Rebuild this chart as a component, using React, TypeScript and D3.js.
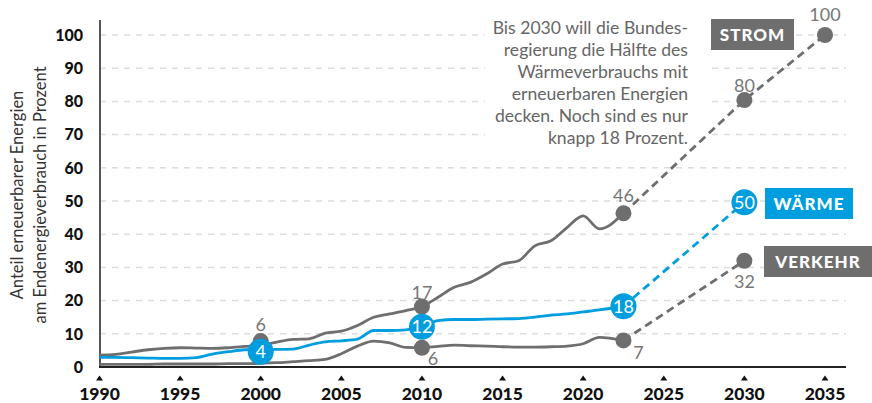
import React from "react";
import * as d3 from "d3";

const years = [1990,1991,1992,1993,1994,1995,1996,1997,1998,1999,2000,2001,2002,2003,2004,2005,2006,2007,2008,2009,2010,2011,2012,2013,2014,2015,2016,2017,2018,2019,2020,2021,2022.5];
const strom = [3.6,3.8,4.5,5.2,5.6,5.8,5.7,5.6,5.8,6.2,6.6,7.5,8.3,8.5,10.2,10.8,12.5,15,16,17,18.2,21,24,25.5,28,31,32,36.5,38,42,45.5,41.6,46.3];
const waerme = [2.9,2.9,2.8,2.7,2.6,2.6,2.8,3.9,4.6,5.2,5.3,5.3,5.4,6.6,7.6,7.9,8.4,11,11,11.2,12.2,14,14.3,14.3,14.4,14.5,14.6,15,15.6,16,16.6,17.2,18.3];
const verkehr = [0.8,0.8,0.8,0.8,0.9,0.9,0.9,0.9,1.0,1.0,1.1,1.3,1.6,1.9,2.3,4.0,6.3,7.8,7.3,5.9,5.8,6.2,6.6,6.4,6.3,6.1,6.0,6.0,6.1,6.3,7.0,8.9,8.0];

const projYears = [2022.5, 2030, 2035];
const stromProj = [46.3, 80.4, 100];
const waermeProj = [18.3, 49.6];
const verkehrProj = [8.0, 32];

const stromMarkers = [
  { year: 2000, value: 7.8, label: "6" },
  { year: 2010, value: 18.2, label: "17" },
  { year: 2022.5, value: 46.3, label: "46" },
  { year: 2030, value: 80.4, label: "80" },
  { year: 2035, value: 100, label: "100" },
];
const waermeMarkers = [
  { year: 2000, value: 4.6, label: "4" },
  { year: 2010, value: 12.1, label: "12" },
  { year: 2022.5, value: 18.3, label: "18" },
  { year: 2030, value: 49.6, label: "50" },
];
const verkehrMarkers = [
  { year: 2010, value: 5.8, label: "6" },
  { year: 2022.5, value: 8.0, label: "7" },
  { year: 2030, value: 32, label: "32" },
];

const xTicks = [1990, 1995, 2000, 2005, 2010, 2015, 2020, 2025, 2030, 2035];
const yTicks = [0, 10, 20, 30, 40, 50, 60, 70, 80, 90, 100];
const noteLines = [
  "Bis 2030 will die Bundes-",
  "regierung die Hälfte des",
  "Wärmeverbrauchs mit",
  "erneuerbaren Energien",
  "decken. Noch sind es nur",
  "knapp 18 Prozent.",
];
const yTitle = ["Anteil erneuerbarer Energien", "am Endenergieverbrauch in Prozent"];

const GRAY = "#6e6e6e";
const BLUE = "#009ddf";
const FONT = "Lato, 'Open Sans', sans-serif";

export default function App() {
  const x = d3.scaleLinear().domain([1990, 2035]).range([99.5, 825]);
  const y = d3.scaleLinear().domain([0, 100]).range([367, 35]);
  const line = d3
    .line<number>()
    .x((_, i) => x(years[i]))
    .y((d) => y(d))
    .curve(d3.curveMonotoneX);
  const projLine = (vals: number[]) =>
    d3
      .line<number>()
      .x((_, i) => x(projYears[i]))
      .y((d) => y(d))(vals) as string;

  const stromOff = [[0, -16], [0, -14], [0, -18], [0, -14], [0, -20]];
  const verkehrOff = [[11, 11], [15, 12], [0, 21]];

  return (
    <svg width={872} height={403} style={{ position: "fixed", left: 0, top: 0, background: "#fff" }} fontFamily={FONT}>
      {yTicks.slice(1).map((t) => (
        <line key={t} x1={100} x2={846} y1={y(t)} y2={y(t)} stroke="#dcdcdc" strokeWidth={1.5} strokeDasharray="6 6" />
      ))}
      <rect x={485} y={10} width={225} height={138} fill="#fff" />
      <line x1={100} x2={100} y1={20} y2={367} stroke="#555" strokeWidth={2} />
      <line x1={99} x2={846} y1={367} y2={367} stroke="#222" strokeWidth={2} />
      {yTicks.map((t) => (
        <text key={t} x={83} y={y(t)} dy="0.36em" textAnchor="end" fontWeight={900} fontSize={16} fill="#111">
          {t}
        </text>
      ))}
      {xTicks.map((t) => (
        <g key={t}>
          <path d={`M${x(t) - 3.5},380.5L${x(t) + 3.5},380.5L${x(t)},375.5Z`} fill="#111" />
          <text x={x(t)} y={400} textAnchor="middle" fontWeight={900} fontSize={17.5} fill="#111">
            {t}
          </text>
        </g>
      ))}
      <g transform="translate(0,195) rotate(-90)">
        <text x={0} y={23} textAnchor="middle" fontSize={16.5} fill="#333">{yTitle[0]}</text>
        <text x={0} y={46} textAnchor="middle" fontSize={16.5} fill="#333">{yTitle[1]}</text>
      </g>
      {noteLines.map((l, i) => (
        <text key={i} x={688} y={28 + i * 22} dy="0.35em" textAnchor="end" fontSize={17.6} fill="#666">
          {l}
        </text>
      ))}
      <path d={line(verkehr) as string} fill="none" stroke={GRAY} strokeWidth={2.8} />
      <path d={line(strom) as string} fill="none" stroke={GRAY} strokeWidth={2.8} />
      <path d={line(waerme) as string} fill="none" stroke={BLUE} strokeWidth={2.8} />
      <path d={projLine(stromProj)} fill="none" stroke={GRAY} strokeWidth={2.8} strokeDasharray="8 5" />
      <path d={projLine(verkehrProj)} fill="none" stroke={GRAY} strokeWidth={2.8} strokeDasharray="8 5" />
      <path d={projLine(waermeProj)} fill="none" stroke={BLUE} strokeWidth={2.8} strokeDasharray="8 5" />
      {stromMarkers.map((m, i) => (
        <g key={"s" + i}>
          <circle cx={x(m.year)} cy={y(m.value)} r={8} fill={GRAY} />
          <text x={x(m.year) + stromOff[i][0]} y={y(m.value) + stromOff[i][1]} dy="0.35em" textAnchor="middle" fontSize={18} fill="#777">
            {m.label}
          </text>
        </g>
      ))}
      {verkehrMarkers.map((m, i) => (
        <g key={"v" + i}>
          <circle cx={x(m.year)} cy={y(m.value)} r={8} fill={GRAY} />
          <text x={x(m.year) + verkehrOff[i][0]} y={y(m.value) + verkehrOff[i][1]} dy="0.35em" textAnchor="middle" fontSize={18} fill="#777">
            {m.label}
          </text>
        </g>
      ))}
      {waermeMarkers.map((m, i) => (
        <g key={"w" + i}>
          <circle cx={x(m.year)} cy={y(m.value)} r={13} fill={BLUE} />
          <text x={x(m.year)} y={y(m.value)} dy="0.36em" textAnchor="middle" fontSize={18} fill="#fff">
            {m.label}
          </text>
        </g>
      ))}
      <rect x={711} y={19} width={83} height={31} fill={GRAY} />
      <text x={752.5} y={35} dy="0.36em" textAnchor="middle" fontSize={17} fontWeight={900} fill="#fff" letterSpacing={1}>STROM</text>
      <rect x={765} y={188} width={88} height={31} fill={BLUE} />
      <text x={809} y={204} dy="0.36em" textAnchor="middle" fontSize={17} fontWeight={900} fill="#fff" letterSpacing={1}>WÄRME</text>
      <rect x={764} y={246} width={108} height={31} fill={GRAY} />
      <text x={818} y={262} dy="0.36em" textAnchor="middle" fontSize={17} fontWeight={900} fill="#fff" letterSpacing={1}>VERKEHR</text>
    </svg>
  );
}
